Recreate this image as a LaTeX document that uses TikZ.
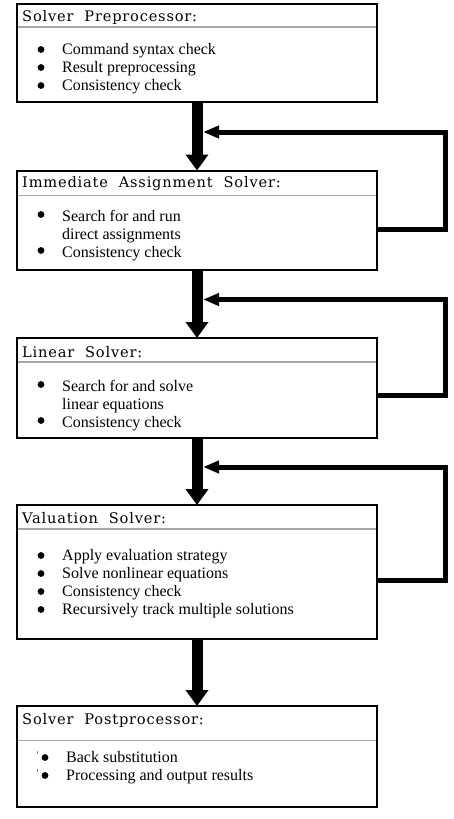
\documentclass[tikz,border=0pt]{standalone}
\usepackage{fontspec}
\setmainfont{Liberation Serif}
\newfontfamily\headfont{DejaVu Serif}[LetterSpace=5.5]
\usepackage{xcolor}
\usepackage{tikz}
\usetikzlibrary{arrows.meta}

\newcommand\steplist[1]{\begin{tabular}[t]{@{}l@{}}#1\end{tabular}}

\tikzset{
  solverbox/.style={draw=black, line width=2pt, minimum width=360pt, outer sep=0pt, inner sep=0pt, anchor=north west},
  headline/.style={line width=1.5pt, gray!70},
  headtext/.style={anchor=base west, inner sep=0pt, font=\headfont\fontsize{14.6}{16}\selectfont},
  bodytext/.style={anchor=base west, inner sep=0pt, font=\fontsize{16}{18}\selectfont},
  itemdot/.style={fill=black},
  mainarrow/.style={line width=11pt, -{Triangle[width=22pt,length=16pt]}},
  backarrow/.style={line width=5pt, -{Triangle[width=12pt,length=16pt]}}
}

\begin{document}
\begin{tikzpicture}[x=1pt,y=-1pt]
\useasboundingbox (0,0) rectangle (454,819);

\node[solverbox, minimum height=98pt] (pre) at (17,4) {};
\node[solverbox, minimum height=99.5pt] (imm) at (17,170.5) {};
\node[solverbox, minimum height=100pt] (lin) at (17,338) {};
\node[solverbox, minimum height=134pt] (val) at (17,505) {};
\node[solverbox, minimum height=101pt] (post) at (17,706) {};

\draw[headline] (18,27) -- (376,27);
\draw[headline] (18,195.5) -- (376,195.5);
\draw[headline] (18,362) -- (376,362);
\draw[headline] (18,529) -- (376,529);
\draw[headline] (18,740.5) -- (376,740.5);

\node[headtext] (preh) at (22,21) {Solver\ \ Preprocessor:};
\node[headtext] (immh) at (22,187) {Immediate\ \ Assignment\ \ Solver:};
\node[headtext] (linh) at (22,357) {Linear\ \ Solver:};
\node[headtext] (valh) at (22,523) {Valuation\ \ Solver:};
\node[headtext] (posth) at (22,724) {Solver\ \ Postprocessor:};

\node[bodytext] (pret) at (62,54) {\steplist{Command syntax check\\ Result preprocessing\\ Consistency check}};
\node[bodytext] (immt) at (62,221) {\steplist{Search for and run\\ direct assignments\\ Consistency check}};
\node[bodytext] (lint) at (62,391) {\steplist{Search for and solve\\ linear equations\\ Consistency check}};
\node[bodytext] (valt) at (62,560) {\steplist{Apply evaluation strategy\\ Solve nonlinear equations\\ Consistency check\\ Recursively track multiple solutions}};
\node[bodytext] (postt) at (66,762) {\steplist{Back substitution\\ Processing and output results}};

\foreach \y in {49.5,67.5,85.5,214.5,250.5,384.5,420.5,555.5,573.5,591.5,609.5}
  \fill[itemdot] (41,\y) circle (3.4);
\foreach \y in {757.5,775.5}
  \fill[itemdot] (45,\y) circle (3.4);
\foreach \y in {751,769}
  \draw[line width=0.7pt, gray] (37.5,\y) -- ++(0,3);

\draw[mainarrow] (pre.south) -- (imm.north);
\draw[mainarrow] (imm.south) -- (lin.north);
\draw[mainarrow] (lin.south) -- (val.north);
\draw[mainarrow] (val.south) -- (post.north);

\coordinate (o1) at (377,229);
\coordinate (c1) at (445.5,132);
\coordinate (j1) at (203,132);
\coordinate (o2) at (377,395);
\coordinate (c2) at (445.5,299.5);
\coordinate (j2) at (203,299.5);
\coordinate (o3) at (377,580);
\coordinate (c3) at (445.5,467);
\coordinate (j3) at (203,467);

\draw[backarrow] (o1) -| (c1) -- (j1);
\draw[backarrow] (o2) -| (c2) -- (j2);
\draw[backarrow] (o3) -| (c3) -- (j3);
\end{tikzpicture}
\end{document}
